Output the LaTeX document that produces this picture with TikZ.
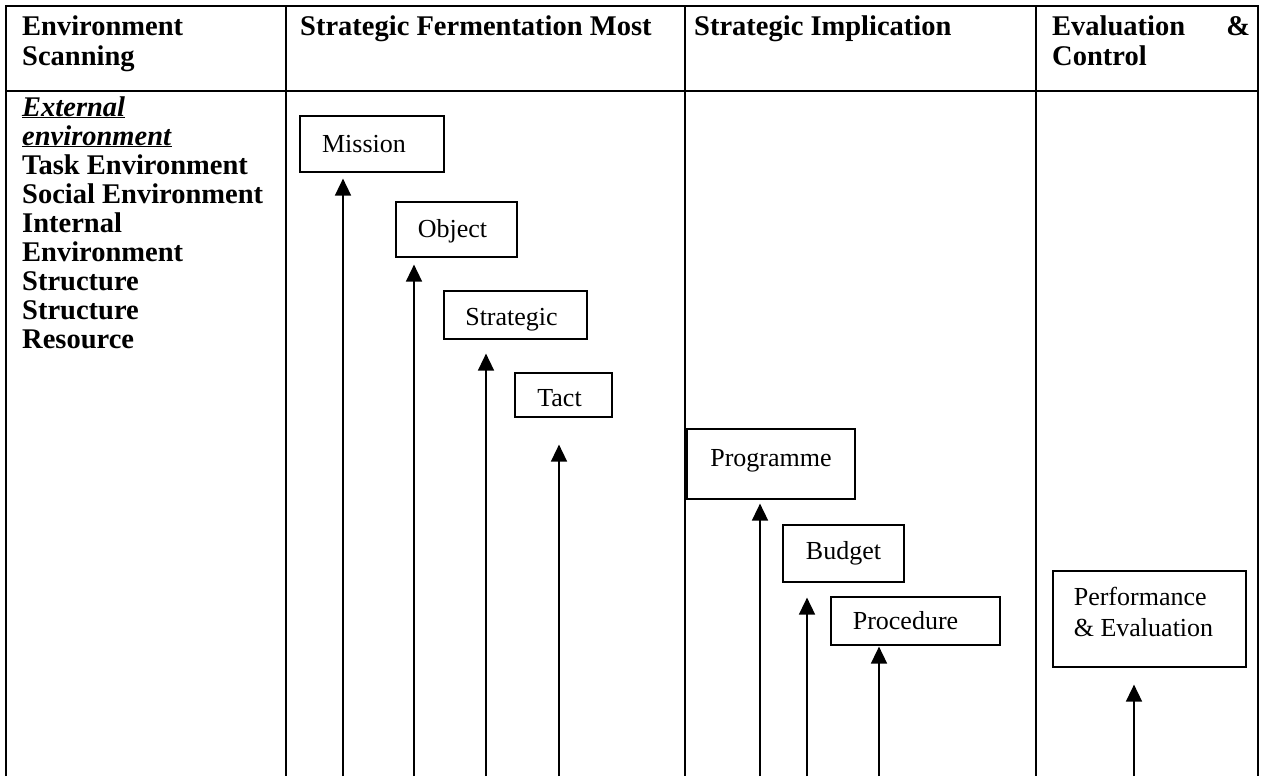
\documentclass[tikz,border=0pt]{standalone}
\usepackage{fontspec}
\setmainfont{Liberation Serif}
\usetikzlibrary{arrows.meta}
\newcommand{\padr}[1]{\rule{#1}{0pt}}
\begin{document}
\begin{tikzpicture}[x=1pt,y=-1pt,
  hdr/.style={font=\fontsize{28.5}{29}\selectfont\bfseries, anchor=base west, inner sep=0pt},
  grid/.style={line width=2pt},
  box/.style={draw, line width=1.2pt, rectangle, inner sep=0pt, font=\fontsize{26}{31}\selectfont},
  arr/.style={line width=1.6pt, -{Triangle[width=16pt,length=17pt]}}]
\useasboundingbox (0,0) rectangle (1265,776);
% table grid
\coordinate (tl) at (6,6);
\coordinate (tr) at (1258,6);
\draw[grid] (6,776) -- (tl) -- (tr) -- (1258,776);
\draw[grid] (6,91) -- (1258,91);
\draw[grid] (286,6) -- (286,776);
\draw[grid] (685,6) -- (685,776);
\draw[grid] (1036,6) -- (1036,776);
% headers
\node[hdr] (h1a) at (22,36) {Environment};
\node[hdr] (h1b) at (22,65) {Scanning};
\node[hdr] (h2) at (300,36) {Strategic Fermentation Most};
\node[hdr] (h3) at (694,36) {Strategic Implication};
\node[hdr, text width=198pt, align=left] (h4a) at (1052,36) {Evaluation\hfill\&};
\node[hdr] (h4b) at (1052,65) {Control};
% left column
\node[hdr] (e1) at (22,116) {\underline{\textit{External}}};
\node[hdr] (e2) at (22,145) {\underline{\textit{environment}}};
\node[hdr] (e3) at (22,174) {Task Environment};
\node[hdr] (e4) at (22,203) {Social Environment};
\node[hdr] (e5) at (22,232) {Internal};
\node[hdr] (e6) at (22,261) {Environment};
\node[hdr] (e7) at (22,290) {Structure};
\node[hdr] (e8) at (22,319) {Structure};
\node[hdr] (e9) at (22,348) {Resource};
% boxes
\node[box, minimum width=144pt, minimum height=56pt] (mission) at (372,144) {Mission\padr{16pt}};
\node[box, minimum width=121pt, minimum height=55pt, text height=22pt] (object) at (456.5,229.5) {Object\padr{8pt}};
\node[box, minimum width=143pt, minimum height=48pt, text height=27pt] (strategic) at (515.5,315) {Strategic\padr{8pt}};
\node[box, minimum width=97pt, minimum height=44pt, text height=24pt] (tact) at (563.5,395) {Tact\padr{8pt}};
\node[box, minimum width=168pt, minimum height=70pt, text depth=13pt] (programme) at (771,464) {Programme};
\node[box, minimum width=121pt, minimum height=57pt] (budget) at (843.5,553.5) {Budget};
\node[box, minimum width=169pt, minimum height=48pt] (procedure) at (915.5,621) {Procedure\padr{20pt}};
\node[box, minimum width=193pt, minimum height=96pt, align=left, text depth=14pt] (perf) at (1149.5,619) {Performance\padr{12pt}\\\& Evaluation\padr{12pt}};
% arrow feet
\coordinate (a1) at (343,776);
\coordinate (a2) at (414,776);
\coordinate (a3) at (486,776);
\coordinate (a4) at (559,776);
\coordinate (a5) at (760,776);
\coordinate (a6) at (807,776);
\coordinate (a7) at (879,776);
\coordinate (a8) at (1134,776);
\draw[arr, shorten >=6pt] (a1) -- (a1 |- mission.south);
\draw[arr, shorten >=7pt] (a2) -- (a2 |- object.south);
\draw[arr, shorten >=14pt] (a3) -- (a3 |- strategic.south);
\draw[arr, shorten >=27pt] (a4) -- (a4 |- tact.south);
\draw[arr, shorten >=4pt] (a5) -- (a5 |- programme.south);
\draw[arr, shorten >=15pt] (a6) -- (a6 |- budget.south);
\draw[arr, shorten >=1pt] (a7) -- (a7 |- procedure.south);
\draw[arr, shorten >=17pt] (a8) -- (a8 |- perf.south);
\end{tikzpicture}
\end{document}
